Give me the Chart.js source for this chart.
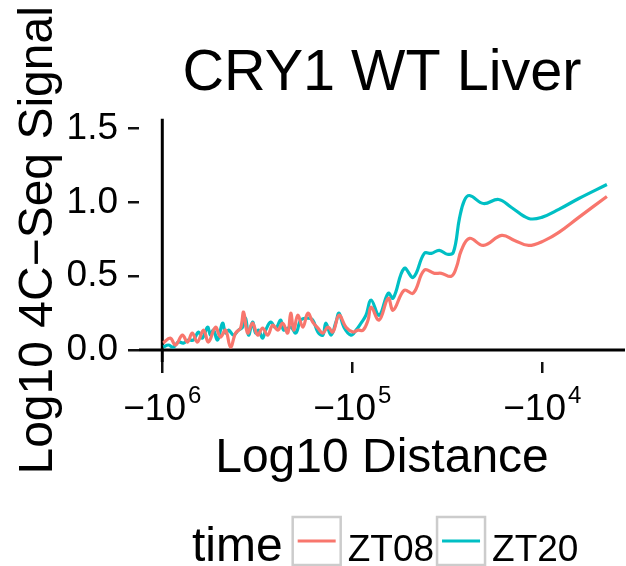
<!DOCTYPE html>
<html>
<head>
<meta charset="utf-8">
<script src="https://cdn.jsdelivr.net/npm/chart.js@4.4.1/dist/chart.umd.min.js"></script>
<style>
html, body { margin: 0; padding: 0; background: #fff; }
</style>
</head>
<body>
<canvas id="chart" width="626" height="566"></canvas>
<script>
var FONT = '"Liberation Sans", Arial, Helvetica, sans-serif';

var seriesNames = ['ZT08', 'ZT20'];
var seriesColors = ['#F8766D', '#00BFC4'];
var xTicks = [-6, -5, -4];
var yTicks = [0, 0.5, 1, 1.5];

// log10 distance (negated) and log10 signal
var zt08X = [-5.995,-5.958,-5.931,-5.894,-5.868,-5.842,-5.815,-5.783,-5.757,-5.720,
	-5.694,-5.667,-5.641,-5.614,-5.588,-5.572,-5.551,-5.525,-5.498,-5.472,
	-5.445,-5.419,-5.392,-5.366,-5.340,-5.324,-5.308,-5.287,-5.260,-5.234,
	-5.208,-5.181,-5.155,-5.128,-5.102,-5.070,-5.033,-4.996,-4.970,-4.943,
	-4.917,-4.901,-4.859,-4.811,-4.785,-4.727,-4.679,-4.621,-4.568,-4.531,
	-4.479,-4.452,-4.426,-4.383,-4.310,-4.214,-4.146,-4.072,-3.987,-3.913,
	-3.808,-3.660];
var zt08Y = [0.047,0.081,0.034,0.101,0.054,0.115,0.054,0.135,0.054,0.155,
	0.088,0.135,0.020,0.115,0.149,0.257,0.115,0.182,0.101,0.149,
	0.101,0.169,0.135,0.182,0.115,0.250,0.135,0.236,0.155,0.250,
	0.189,0.149,0.115,0.155,0.122,0.236,0.155,0.122,0.135,0.135,
	0.203,0.291,0.203,0.351,0.270,0.405,0.385,0.541,0.520,0.520,
	0.500,0.561,0.676,0.757,0.709,0.777,0.743,0.709,0.743,0.797,
	0.899,1.041];

var zt20X = [-5.995,-5.968,-5.942,-5.915,-5.889,-5.863,-5.836,-5.810,-5.789,-5.762,
	-5.746,-5.731,-5.709,-5.683,-5.667,-5.651,-5.625,-5.599,-5.577,-5.562,
	-5.546,-5.525,-5.509,-5.493,-5.472,-5.456,-5.429,-5.403,-5.377,-5.361,
	-5.324,-5.297,-5.271,-5.234,-5.208,-5.181,-5.155,-5.139,-5.112,-5.086,
	-5.070,-5.044,-5.007,-4.980,-4.954,-4.928,-4.901,-4.859,-4.811,-4.785,
	-4.727,-4.679,-4.621,-4.584,-4.542,-4.500,-4.468,-4.436,-4.410,-4.383,
	-4.310,-4.230,-4.162,-4.072,-4.003,-3.913,-3.808,-3.660];
var zt20Y = [0.020,0.034,0.020,0.054,0.047,0.068,0.068,0.122,0.081,0.155,
	0.101,0.135,0.068,0.182,0.115,0.135,0.101,0.135,0.155,0.216,
	0.101,0.189,0.115,0.135,0.081,0.135,0.189,0.149,0.203,0.135,
	0.155,0.115,0.203,0.216,0.203,0.122,0.101,0.182,0.101,0.189,
	0.250,0.155,0.101,0.135,0.182,0.236,0.338,0.236,0.385,0.351,
	0.554,0.493,0.655,0.655,0.676,0.649,0.662,0.892,1.014,1.047,
	0.993,1.020,0.966,0.892,0.899,0.953,1.027,1.122];

function toPoints(xs, ys) {
	var pts = [];
	for (var i = 0; i < xs.length; i++) pts.push({ x: xs[i], y: ys[i] });
	return pts;
}

var seriesData = [toPoints(zt08X, zt08Y), toPoints(zt20X, zt20Y)];

var datasets = seriesNames.map(function (name, i) {
	return {
		label: name,
		data: seriesData[i],
		borderColor: seriesColors[i],
		borderWidth: 3.2,
		pointRadius: 0,
		tension: 0.4,
		fill: false
	};
});

// zero lines at x = -6 and y = 0, like the hline / vline of the original
var zeroLines = {
	id: 'zeroLines',
	beforeDatasetsDraw: function (chart) {
		var ctx = chart.ctx, a = chart.chartArea;
		var x0 = chart.scales.x.getPixelForValue(xTicks[0]);
		var y0 = chart.scales.y.getPixelForValue(0);
		ctx.save();
		ctx.strokeStyle = '#000';
		ctx.lineWidth = 3;
		ctx.beginPath();
		ctx.moveTo(x0, a.top);
		ctx.lineTo(x0, a.bottom);
		ctx.moveTo(a.left, y0);
		ctx.lineTo(a.right, y0);
		ctx.stroke();
		ctx.restore();
	}
};

// x tick labels as -10 with a raised exponent
var powerLabels = {
	id: 'powerLabels',
	afterDraw: function (chart) {
		var ctx = chart.ctx, sx = chart.scales.x;
		ctx.save();
		ctx.fillStyle = '#000';
		ctx.textAlign = 'left';
		ctx.textBaseline = 'alphabetic';
		xTicks.forEach(function (v) {
			var px = sx.getPixelForValue(v);
			var base = '\u221210', exp = String(-v);
			ctx.font = '37px ' + FONT;
			var wb = ctx.measureText(base).width;
			ctx.font = '24px ' + FONT;
			var we = ctx.measureText(exp).width;
			var left = px - (wb + we + 2) / 2;
			ctx.font = '37px ' + FONT;
			ctx.fillText(base, left, 420);
			ctx.font = '24px ' + FONT;
			ctx.fillText(exp, left + wb + 2, 403);
		});
		ctx.restore();
	}
};

// ggplot style legend: "time" then a keyed box per series
var bottomLegend = {
	id: 'bottomLegend',
	afterDraw: function (chart) {
		var ctx = chart.ctx;
		var base = 561, x = 192;
		ctx.save();
		ctx.textBaseline = 'alphabetic';
		ctx.textAlign = 'left';
		ctx.fillStyle = '#000';
		ctx.font = '48px ' + FONT;
		ctx.fillText('time', x, base);
		x += ctx.measureText('time').width + 10;
		ctx.font = '37px ' + FONT;
		seriesNames.forEach(function (name, i) {
			ctx.strokeStyle = '#cccccc';
			ctx.lineWidth = 2.5;
			ctx.strokeRect(x, 517, 48, 48);
			ctx.strokeStyle = seriesColors[i];
			ctx.lineWidth = 3;
			ctx.beginPath();
			ctx.moveTo(x + 5, 541);
			ctx.lineTo(x + 43, 541);
			ctx.stroke();
			x += 55;
			ctx.fillText(name, x, base);
			x += ctx.measureText(name).width + 3;
		});
		ctx.restore();
	}
};

var chart = new Chart(document.getElementById('chart').getContext('2d'), {
	type: 'line',
	data: { datasets: datasets },
	plugins: [zeroLines, powerLabels, bottomLegend],
	options: {
		responsive: false,
		animation: false,
		devicePixelRatio: 1,
		layout: { padding: { left: 0, right: 1, top: 0, bottom: 76 } },
		plugins: {
			legend: { display: false },
			tooltip: { enabled: false },
			title: {
				display: true,
				fullSize: false,
				text: 'CRY1 WT Liver',
				color: '#000',
				font: { family: FONT, size: 57.6, weight: 'normal' },
				padding: { top: 40, bottom: 9.6 }
			}
		},
		scales: {
			x: {
				type: 'linear',
				min: -6.1226,
				max: -3.5647,
				afterBuildTicks: function (s) {
					s.ticks = xTicks.map(function (v) { return { value: v }; });
				},
				afterFit: function (s) { s.height = 128; },
				ticks: { display: false },
				grid: { drawOnChartArea: false, drawTicks: true, tickLength: 11, color: '#111', lineWidth: 2.5 },
				border: { display: false },
				title: {
					display: true,
					text: 'Log10 Distance',
					color: '#000',
					font: { family: FONT, size: 48 },
					padding: { top: 0, bottom: 2 }
				}
			},
			y: {
				type: 'linear',
				min: -0.0811,
				max: 1.5676,
				afterBuildTicks: function (s) {
					s.ticks = yTicks.map(function (v) { return { value: v }; });
				},
				afterFit: function (s) { s.width = 139; },
				ticks: {
					color: '#000',
					padding: 10,
					font: { family: FONT, size: 37 },
					callback: function (v) { return v.toFixed(1); }
				},
				grid: { drawOnChartArea: false, drawTicks: true, tickLength: 11, color: '#111', lineWidth: 2.5 },
				border: { display: false },
				title: {
					display: true,
					text: 'Log10 4C\u2212Seq Signal',
					color: '#000',
					font: { family: FONT, size: 48 },
					padding: { top: 10, bottom: 0 }
				}
			}
		}
	}
});
</script>
</body>
</html>
